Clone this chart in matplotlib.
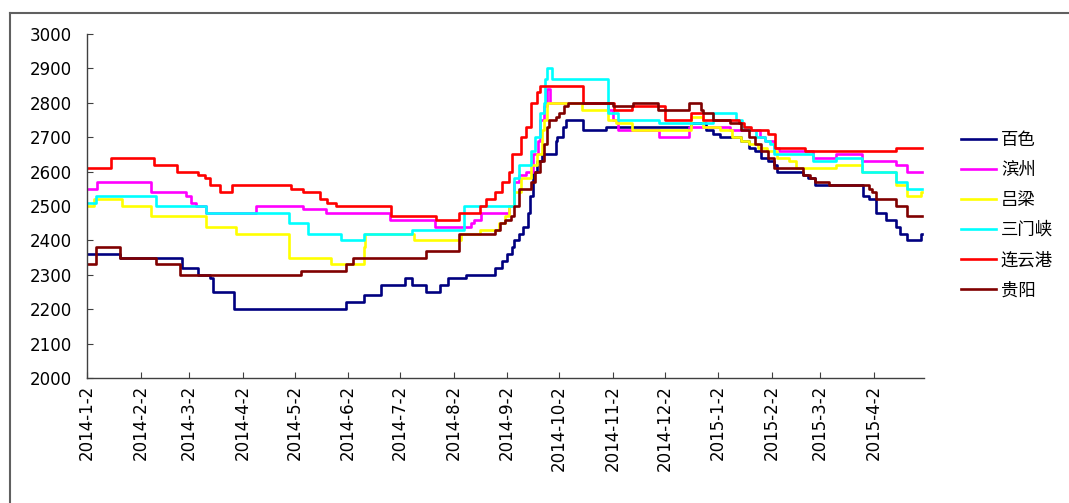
import pandas as pd
import matplotlib
matplotlib.use("Agg")
import matplotlib.pyplot as plt
from matplotlib.lines import Line2D

plt.rcParams["font.family"] = ["DejaVu Sans", "Noto Sans CJK SC"]

END_DATE = "2015-04-30"

# 百色
baise_dates = ["2014-01-02", "2014-01-21", "2014-02-26", "2014-03-07", "2014-03-14", "2014-03-16",
               "2014-03-28", "2014-06-01", "2014-06-11", "2014-06-21", "2014-07-05", "2014-07-09",
               "2014-07-17", "2014-07-25", "2014-07-30", "2014-08-09", "2014-08-26", "2014-08-30",
               "2014-09-02", "2014-09-05", "2014-09-06", "2014-09-09", "2014-09-11", "2014-09-14",
               "2014-09-15", "2014-09-17", "2014-09-19", "2014-09-22", "2014-09-30", "2014-10-01",
               "2014-10-04", "2014-10-06", "2014-10-16", "2014-10-29", "2014-12-17", "2014-12-26",
               "2014-12-30", "2015-01-03", "2015-01-15", "2015-01-20", "2015-01-23", "2015-01-27",
               "2015-01-31", "2015-02-03", "2015-02-05", "2015-02-20", "2015-02-23", "2015-02-27",
               "2015-03-27", "2015-03-30", "2015-04-03", "2015-04-09", "2015-04-15", "2015-04-17",
               "2015-04-21", "2015-04-29"]
baise_prices = [2360, 2350, 2320, 2300, 2290, 2250,
                2200, 2220, 2240, 2270, 2290, 2270,
                2250, 2270, 2290, 2300, 2320, 2340,
                2360, 2380, 2400, 2420, 2440, 2480,
                2530, 2600, 2630, 2650, 2690, 2700,
                2730, 2750, 2720, 2730, 2740, 2720,
                2710, 2700, 2690, 2670, 2660, 2640,
                2630, 2620, 2600, 2590, 2580, 2560,
                2530, 2520, 2480, 2460, 2440, 2420,
                2400, 2420]

# 滨州
binzhou_dates = ["2014-01-02", "2014-01-08", "2014-02-08", "2014-02-28", "2014-03-03", "2014-03-06",
                 "2014-03-12", "2014-04-10", "2014-05-07", "2014-05-20", "2014-06-26", "2014-07-22",
                 "2014-08-12", "2014-08-14", "2014-08-18", "2014-09-03", "2014-09-06", "2014-09-09",
                 "2014-09-13", "2014-09-17", "2014-09-20", "2014-09-21", "2014-09-23", "2014-09-25",
                 "2014-09-27", "2014-10-30", "2014-11-02", "2014-11-05", "2014-11-29", "2014-12-16",
                 "2015-01-09", "2015-01-26", "2015-01-29", "2015-02-03", "2015-02-06", "2015-02-26",
                 "2015-03-11", "2015-03-26", "2015-04-15", "2015-04-21"]
binzhou_prices = [2550, 2570, 2540, 2530, 2510, 2500,
                  2480, 2500, 2490, 2480, 2460, 2440,
                  2450, 2460, 2480, 2500, 2570, 2590,
                  2600, 2650, 2690, 2750, 2790, 2840,
                  2800, 2780, 2750, 2720, 2700, 2730,
                  2720, 2700, 2690, 2670, 2660, 2640,
                  2650, 2630, 2620, 2600]

# 吕梁
lvliang_dates = ["2014-01-02", "2014-01-06", "2014-01-22", "2014-02-08", "2014-03-12", "2014-03-29",
                 "2014-04-29", "2014-05-23", "2014-06-11", "2014-06-12", "2014-07-10", "2014-08-06",
                 "2014-08-17", "2014-08-28", "2014-09-01", "2014-09-03", "2014-09-06", "2014-09-10",
                 "2014-09-16", "2014-09-19", "2014-09-22", "2014-09-23", "2014-09-25", "2014-10-15",
                 "2014-10-30", "2014-11-04", "2014-11-13", "2014-12-17", "2014-12-24", "2015-01-03",
                 "2015-01-10", "2015-01-15", "2015-01-20", "2015-01-25", "2015-01-30", "2015-02-05",
                 "2015-02-12", "2015-02-16", "2015-03-11", "2015-03-26", "2015-04-15", "2015-04-21",
                 "2015-04-29"]
lvliang_prices = [2500, 2520, 2500, 2470, 2440, 2420,
                  2350, 2330, 2380, 2420, 2400, 2420,
                  2430, 2450, 2470, 2500, 2540, 2580,
                  2620, 2650, 2720, 2750, 2800, 2780,
                  2750, 2740, 2720, 2760, 2730, 2720,
                  2700, 2690, 2680, 2670, 2660, 2640,
                  2630, 2610, 2620, 2600, 2560, 2530,
                  2540]

# 三门峡
sanmenxia_dates = ["2014-01-02", "2014-01-07", "2014-02-11", "2014-03-12", "2014-04-29", "2014-05-10",
                   "2014-05-29", "2014-06-11", "2014-07-09", "2014-08-08", "2014-09-06", "2014-09-09",
                   "2014-09-16", "2014-09-18", "2014-09-21", "2014-09-23", "2014-09-24", "2014-09-25",
                   "2014-09-28", "2014-10-30", "2014-11-05", "2014-11-29", "2014-12-30", "2015-01-12",
                   "2015-01-16", "2015-01-20", "2015-01-24", "2015-01-29", "2015-02-01", "2015-02-03",
                   "2015-02-26", "2015-03-11", "2015-03-26", "2015-04-15", "2015-04-21"]
sanmenxia_prices = [2510, 2530, 2500, 2480, 2450, 2420,
                    2400, 2420, 2430, 2500, 2580, 2620,
                    2660, 2700, 2770, 2800, 2870, 2900,
                    2870, 2770, 2750, 2740, 2770, 2750,
                    2730, 2720, 2700, 2690, 2680, 2650,
                    2630, 2640, 2600, 2570, 2550]

# 连云港
lianyungang_dates = ["2014-01-02", "2014-01-16", "2014-02-10", "2014-02-23", "2014-03-07", "2014-03-11",
                     "2014-03-14", "2014-03-20", "2014-03-27", "2014-04-30", "2014-05-07", "2014-05-17",
                     "2014-05-21", "2014-05-26", "2014-06-27", "2014-07-23", "2014-08-05", "2014-08-17",
                     "2014-08-21", "2014-08-26", "2014-08-30", "2014-09-03", "2014-09-05", "2014-09-10",
                     "2014-09-13", "2014-09-16", "2014-09-19", "2014-09-21", "2014-10-16", "2014-11-03",
                     "2014-11-13", "2014-12-02", "2014-12-17", "2014-12-24", "2015-01-14", "2015-01-17",
                     "2015-01-21", "2015-01-31", "2015-02-04", "2015-02-21", "2015-04-15"]
lianyungang_prices = [2610, 2640, 2620, 2600, 2590, 2580,
                      2560, 2540, 2560, 2550, 2540, 2520,
                      2510, 2500, 2470, 2460, 2480, 2500,
                      2520, 2540, 2570, 2600, 2650, 2700,
                      2730, 2800, 2830, 2850, 2800, 2780,
                      2790, 2750, 2770, 2750, 2740, 2730,
                      2720, 2710, 2670, 2660, 2670]

# 贵阳
guiyang_dates = ["2014-01-02", "2014-01-07", "2014-01-21", "2014-02-11", "2014-02-25", "2014-05-06",
                 "2014-06-01", "2014-06-05", "2014-07-17", "2014-08-05", "2014-08-26", "2014-08-29",
                 "2014-09-01", "2014-09-04", "2014-09-06", "2014-09-09", "2014-09-16", "2014-09-18",
                 "2014-09-21", "2014-09-23", "2014-09-25", "2014-09-26", "2014-09-30", "2014-10-02",
                 "2014-10-05", "2014-10-07", "2014-11-02", "2014-11-14", "2014-11-28", "2014-12-16",
                 "2014-12-23", "2014-12-24", "2014-12-30", "2015-01-09", "2015-01-15", "2015-01-20",
                 "2015-01-23", "2015-01-27", "2015-01-31", "2015-02-03", "2015-02-20", "2015-02-24",
                 "2015-02-27", "2015-03-07", "2015-03-30", "2015-04-01", "2015-04-03", "2015-04-15",
                 "2015-04-21"]
guiyang_prices = [2330, 2380, 2350, 2330, 2300, 2310,
                  2330, 2350, 2370, 2420, 2430, 2450,
                  2460, 2470, 2500, 2550, 2570, 2600,
                  2630, 2680, 2730, 2750, 2760, 2770,
                  2790, 2800, 2790, 2800, 2780, 2800,
                  2780, 2770, 2750, 2740, 2720, 2700,
                  2680, 2660, 2640, 2610, 2590, 2580,
                  2570, 2560, 2550, 2540, 2520, 2500,
                  2470]

series_names = ["百色", "滨州", "吕梁", "三门峡", "连云港", "贵阳"]
series_dates = [baise_dates, binzhou_dates, lvliang_dates, sanmenxia_dates, lianyungang_dates, guiyang_dates]
series_prices = [baise_prices, binzhou_prices, lvliang_prices, sanmenxia_prices, lianyungang_prices, guiyang_prices]
colors = ["#000080", "#FF00FF", "#FFFF00", "#00FFFF", "#FF0000", "#800000"]

tick_dates = ["2014-01-02", "2014-02-02", "2014-03-02", "2014-04-02", "2014-05-02", "2014-06-02",
              "2014-07-02", "2014-08-02", "2014-09-02", "2014-10-02", "2014-11-02", "2014-12-02",
              "2015-01-02", "2015-02-02", "2015-03-02", "2015-04-02"]
tick_labels = ["2014-1-2", "2014-2-2", "2014-3-2", "2014-4-2", "2014-5-2", "2014-6-2",
               "2014-7-2", "2014-8-2", "2014-9-2", "2014-10-2", "2014-11-2", "2014-12-2",
               "2015-1-2", "2015-2-2", "2015-3-2", "2015-4-2"]

fig = plt.figure(figsize=(10.69, 5.03), dpi=100)
ax = fig.add_axes([87 / 1069, 1 - 378 / 503, (924 - 87) / 1069, (378 - 34) / 503])

for name, d, p, c in zip(series_names, series_dates, series_prices, colors):
    x = pd.to_datetime(d + [END_DATE])
    y = p + [p[-1]]
    ax.step(x, y, where="post", color=c, lw=1.9, label=name)

ax.set_xlim(pd.Timestamp("2014-01-02"), pd.Timestamp("2015-05-01"))
ax.set_ylim(2000, 3000)
ax.set_yticks(range(2000, 3001, 100))
ax.set_xticks(pd.to_datetime(tick_dates))
ax.set_xticklabels(tick_labels, rotation=90)

for s in ["top", "right"]:
    ax.spines[s].set_visible(False)
for s in ["left", "bottom"]:
    ax.spines[s].set_color("#404040")
    ax.spines[s].set_linewidth(1.0)
ax.tick_params(axis="y", direction="in", length=4, color="#404040", pad=11, labelsize=12)
ax.tick_params(axis="x", direction="in", length=4, color="#404040", pad=5, labelsize=12)

leg = ax.legend(loc="center left", bbox_to_anchor=(954 / 1069, 1 - 215 / 503),
                bbox_transform=fig.transFigure, frameon=False, handlelength=2.0,
                handletextpad=0.3, labelspacing=0.7, borderaxespad=0,
                prop={"family": ["Noto Sans CJK SC"], "size": 12.5})

# outer frame around the picture
fig.add_artist(Line2D([9.5 / 1069, 9.5 / 1069], [0, 1 - 13 / 503], transform=fig.transFigure,
                      color="#606060", lw=1.5))
fig.add_artist(Line2D([9.5 / 1069, 1], [1 - 13 / 503, 1 - 13 / 503], transform=fig.transFigure,
                      color="#606060", lw=1.5))

fig.savefig("out.png", dpi=100)
